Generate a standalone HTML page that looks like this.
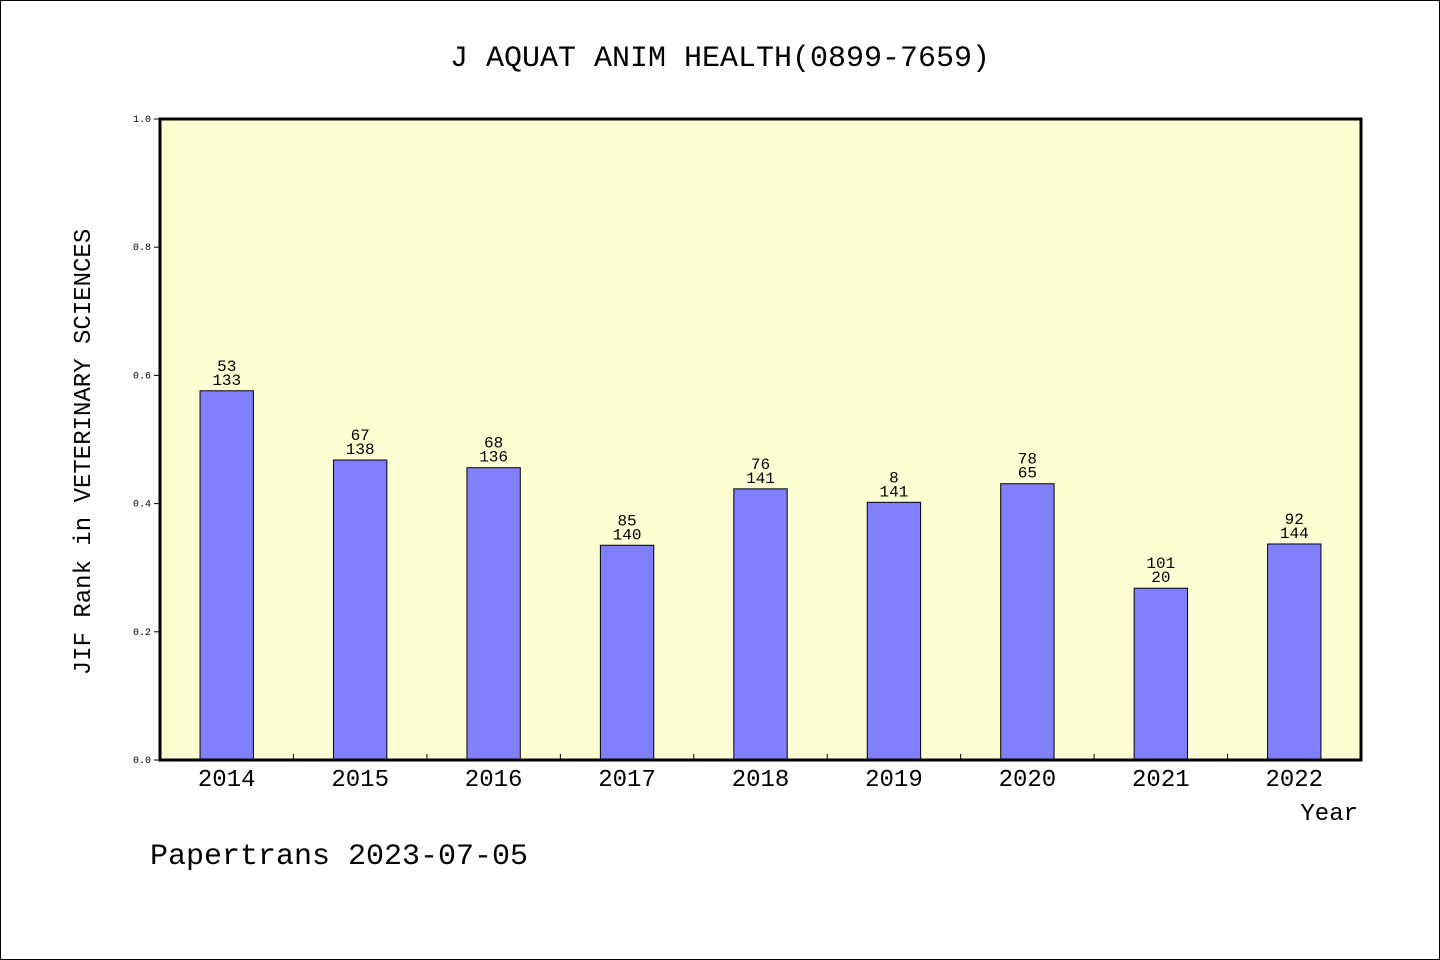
<!DOCTYPE html>
<html><head><meta charset="utf-8"><style>
body{margin:0;background:#fff;}
svg{display:block;font-family:"Liberation Mono","DejaVu Sans Mono",monospace;}
</style></head><body>
<svg id="chart" width="1440" height="960" xmlns="http://www.w3.org/2000/svg">
<rect x="0.5" y="0.5" width="1439" height="959" fill="#fff" stroke="#000"/>
<text x="720" y="66" font-size="30" text-anchor="middle">J AQUAT ANIM HEALTH(0899-7659)</text>
<rect x="160" y="119" width="1201" height="641" fill="#ffffd4"/>
<g id="bars"></g>
<rect x="160" y="119" width="1201" height="641" fill="none" stroke="#000" stroke-width="3"/>
<g id="axes"></g>
<text transform="translate(90,452) rotate(-90)" font-size="24" text-anchor="middle">JIF Rank in VETERINARY SCIENCES</text>
<text x="1358" y="820" font-size="24" text-anchor="end">Year</text>
<text x="150" y="864" font-size="30">Papertrans 2023-07-05</text>
</svg>
<script>
const years = ["2014","2015","2016","2017","2018","2019","2020","2021","2022"];
const values = [0.576,0.468,0.456,0.335,0.423,0.402,0.431,0.268,0.337];
const rankTop = ["53","67","68","85","76","8","78","101","92"];
const rankBottom = ["133","138","136","140","141","141","65","20","144"];
const yTicks = [0,0.2,0.4,0.6,0.8,1.0];
const NS="http://www.w3.org/2000/svg";
const X0=160,X1=1361,Y0=760,Y1=119;
const slot=(X1-X0)/years.length;
const xC=i=>X0+slot*(i+0.5);
const yS=v=>Y0-(Y0-Y1)*v;
function mk(tag,attrs,text){const e=document.createElementNS(NS,tag);for(const k in attrs)e.setAttribute(k,attrs[k]);if(text!==undefined)e.textContent=text;return e;}
const bars=document.getElementById('bars'),axes=document.getElementById('axes');
const bw=slot*0.4;
years.forEach((y,i)=>{
  const r=mk('rect',{x:xC(i)-bw/2,y:yS(values[i]),width:bw,height:Y0-yS(values[i]),fill:'#8080ff',stroke:'#000','stroke-width':1});
  
  
  bars.appendChild(r);
  const t1=mk('text',{x:xC(i),y:yS(values[i])-20,'font-size':16,'text-anchor':'middle'},rankTop[i]);
  
  
  bars.appendChild(t1);
  const t2=mk('text',{x:xC(i),y:yS(values[i])-6,'font-size':16,'text-anchor':'middle'},rankBottom[i]);
  
  
  bars.appendChild(t2);
  const xl=mk('text',{x:xC(i),y:786,'font-size':24,'text-anchor':'middle'},y);
  
  
  axes.appendChild(xl);
  if(i>0){
    const tk=mk('line',{x1:X0+slot*i,x2:X0+slot*i,y1:Y0,y2:Y0-6,stroke:'#000','stroke-width':1});
    
    
    axes.appendChild(tk);
  }
});
yTicks.forEach(v=>{
  const tk=mk('line',{x1:X0-6,x2:X0,y1:yS(v),y2:yS(v),stroke:'#000','stroke-width':1});
  
  
  axes.appendChild(tk);
  const tl=mk('text',{x:X0-9,y:yS(v)+3,'font-size':10,'text-anchor':'end'},v.toFixed(1));
  
  
  axes.appendChild(tl);
});
</script>
</body></html>
